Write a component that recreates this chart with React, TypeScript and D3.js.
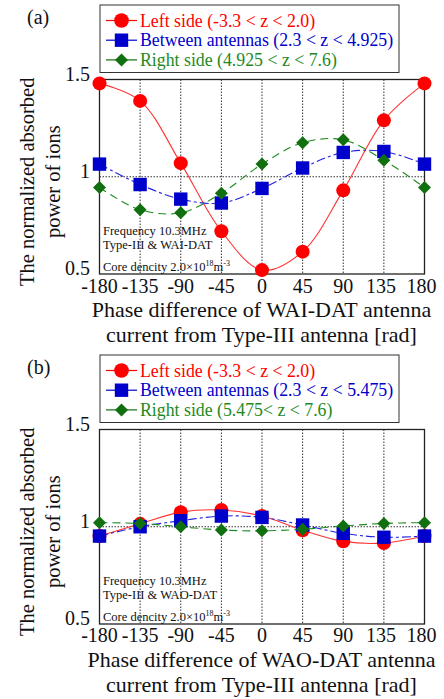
import { useEffect, useRef } from 'react'
import * as d3 from 'd3'

// phase difference (deg)
const phases = [-180, -135, -90, -45, 0, 45, 90, 135, 180]
const yTicks = [0.5, 1, 1.5]

// (a) WAI-DAT
const leftA = [1.48, 1.39, 1.07, 0.72, 0.52, 0.615, 0.93, 1.29, 1.48]
const betweenA = [1.065, 0.96, 0.885, 0.865, 0.94, 1.045, 1.125, 1.13, 1.065]
const rightA = [0.945, 0.83, 0.815, 0.915, 1.065, 1.175, 1.19, 1.085, 0.945]

// (b) WAO-DAT
const leftB = [0.952, 1.015, 1.075, 1.086, 1.055, 0.982, 0.925, 0.916, 0.952]
const betweenB = [0.952, 1.0, 1.031, 1.055, 1.048, 1.009, 0.966, 0.946, 0.952]
const rightB = [1.021, 1.017, 1.0, 0.983, 0.979, 0.987, 1.004, 1.017, 1.021]

const legendA = ['Left side (-3.3 < z < 2.0)', 'Between antennas (2.3 < z < 4.925)', 'Right side (4.925 < z < 7.6)']
const legendB = ['Left side (-3.3 < z < 2.0)', 'Between antennas (2.3 < z < 5.475)', 'Right side (5.475< z < 7.6)']

const FONT = 'Liberation Serif'

const styles = [
  { marker: 'circle', fill: '#ff0000', line: '#ff3333', dash: null as string | null, text: '#ff0000' },
  { marker: 'square', fill: '#0000cc', line: '#2222dd', dash: '9,3,3,3', text: '#0000cc' },
  { marker: 'diamond', fill: '#107010', line: '#1f8a1f', dash: '8,5', text: '#1e8a1e' },
]

type Panel = {
  tag: string
  top: number
  bottom: number
  series: number[][]
  legend: string[]
  legendTop: number
  device: string
  tickGap: number
  titleY: number
}

const panels: Panel[] = [
  { tag: '(a)', top: 79.5, bottom: 274, series: [leftA, betweenA, rightA], legend: legendA, legendTop: 5, device: 'WAI-DAT', tickGap: 19, titleY: 317 },
  { tag: '(b)', top: 429.5, bottom: 624, series: [leftB, betweenB, rightB], legend: legendB, legendTop: 355, device: 'WAO-DAT', tickGap: 18, titleY: 667 },
]

function drawMarker(g: d3.Selection<SVGGElement, unknown, null, undefined>, kind: string, x: number, y: number, fill: string, s = 1) {
  if (kind === 'circle') {
    g.append('circle').attr('cx', x).attr('cy', y).attr('r', 7 * s).attr('fill', fill)
  } else if (kind === 'square') {
    const h = 6.7 * s
    g.append('rect').attr('x', x - h).attr('y', y - h).attr('width', 2 * h).attr('height', 2 * h).attr('fill', fill)
  } else {
    const h = 6.5 * s
    g.append('path')
      .attr('d', `M${x},${y - h}L${x + h},${y}L${x},${y + h}L${x - h},${y}Z`)
      .attr('fill', fill)
  }
}

export default function App() {
  const svgRef = useRef<SVGSVGElement>(null)

  useEffect(() => {
    if (!svgRef.current) return
    const svg = d3.select(svgRef.current)
    svg.selectAll('*').remove()

    const left = 99.5
    const right = 424.5

    panels.forEach(p => {
      const x = d3.scaleLinear().domain([-180, 180]).range([left, right])
      const y = d3.scaleLinear().domain([0.5, 1.5]).range([p.bottom, p.top])
      const g = svg.append('g')

      // grid
      g.selectAll(null)
        .data(phases.slice(1, -1))
        .enter().append('line')
        .attr('x1', d => x(d)).attr('x2', d => x(d))
        .attr('y1', p.top).attr('y2', p.bottom)
        .attr('stroke', '#333').attr('stroke-width', 1).attr('stroke-dasharray', '1.5,1.5')
      g.append('line')
        .attr('x1', left).attr('x2', right)
        .attr('y1', y(1)).attr('y2', y(1))
        .attr('stroke', '#333').attr('stroke-width', 1).attr('stroke-dasharray', '1.5,1.5')

      // frame
      g.append('rect')
        .attr('x', left).attr('y', p.top)
        .attr('width', right - left).attr('height', p.bottom - p.top)
        .attr('fill', 'none').attr('stroke', '#222').attr('stroke-width', 1.3)

      // annotations
      const ann = g.append('text').style('font-family', FONT).attr('font-size', 12.5).attr('fill', '#111')
      ann.append('tspan').attr('x', 103).attr('y', p.bottom - 39).text('Frequency 10.3MHz')
      ann.append('tspan').attr('x', 103).attr('y', p.bottom - 25).text(`Type-III & ${p.device}`)
      const core = g.append('text').style('font-family', FONT).attr('font-size', 12.5).attr('fill', '#111')
        .attr('x', 103).attr('y', p.bottom - 3)
      core.append('tspan').text('Core dencity 2.0×10')
      core.append('tspan').attr('font-size', 8).attr('dy', -5).text('18')
      core.append('tspan').attr('dy', 5).text('m')
      core.append('tspan').attr('font-size', 8).attr('dy', -5).text('-3')

      // series
      const line = d3.line<number>()
        .x((_, i) => x(phases[i]))
        .y(d => y(d))
        .curve(d3.curveCatmullRom.alpha(0.5))

      p.series.forEach((vals, si) => {
        const st = styles[si]
        const sg = g.append('g')
        sg.append('path')
          .attr('d', line(vals) || '')
          .attr('fill', 'none')
          .attr('stroke', st.line)
          .attr('stroke-width', 1.1)
          .attr('stroke-dasharray', st.dash)
        vals.forEach((v, i) => drawMarker(sg, st.marker, x(phases[i]), y(v), st.fill))
      })

      // ticks
      g.selectAll(null)
        .data(phases)
        .enter().append('text')
        .attr('x', d => x(d) - (d > 90 ? 3 : 0))
        .attr('y', p.bottom + p.tickGap)
        .attr('text-anchor', 'middle')
        .style('font-family', FONT).attr('font-size', 20).attr('fill', '#111')
        .text(d => String(d))
      g.selectAll(null)
        .data(yTicks)
        .enter().append('text')
        .attr('x', 90)
        .attr('y', d => y(d) + 1)
        .attr('text-anchor', 'end')
        .style('font-family', FONT).attr('font-size', 20).attr('fill', '#111')
        .text(d => String(d))

      // axis titles
      const xt = g.append('text').attr('text-anchor', 'middle')
        .style('font-family', FONT).attr('font-size', 22).attr('fill', '#111')
      xt.append('tspan').attr('x', 261.5).attr('y', p.titleY).text(`Phase difference of ${p.device} antenna`)
      xt.append('tspan').attr('x', 261.5).attr('y', p.titleY + 25).text('current from Type-III antenna [rad]')

      const cy = (p.top + p.bottom) / 2 + 5
      const yt = g.append('text').attr('text-anchor', 'middle')
        .style('font-family', FONT).attr('font-size', 20.5).attr('fill', '#111')
        .attr('transform', `translate(0, ${cy}) rotate(-90)`)
      yt.append('tspan').attr('x', 0).attr('y', 34).text('The normalized absorbed')
      yt.append('tspan').attr('x', 0).attr('y', 60).text('power of ions')

      // panel tag
      g.append('text').attr('x', 27).attr('y', p.legendTop + 19)
        .style('font-family', FONT).attr('font-size', 20).attr('fill', '#111')
        .text(p.tag)

      // legend
      const lg = g.append('g')
      lg.append('rect')
        .attr('x', 100).attr('y', p.legendTop)
        .attr('width', 299).attr('height', 67.5)
        .attr('fill', 'white').attr('stroke', '#333').attr('stroke-width', 1)
      p.legend.forEach((label, i) => {
        const st = styles[i]
        const ly = p.legendTop + 15.5 + i * 19.7
        lg.append('line')
          .attr('x1', 106).attr('x2', 137).attr('y1', ly).attr('y2', ly)
          .attr('stroke', st.fill).attr('stroke-width', 1.2)
        drawMarker(lg, st.marker, 121.5, ly, st.fill, i === 0 ? 1.05 : 1)
        lg.append('text')
          .attr('x', 140).attr('y', ly + 6)
          .style('font-family', FONT).attr('font-size', 17.8).attr('fill', st.text)
          .text(label)
      })
    })
  }, [])

  return (
    <svg
      ref={svgRef}
      width={444}
      height={699}
      style={{ position: 'absolute', left: 0, top: 0, background: 'white' }}
    />
  )
}
